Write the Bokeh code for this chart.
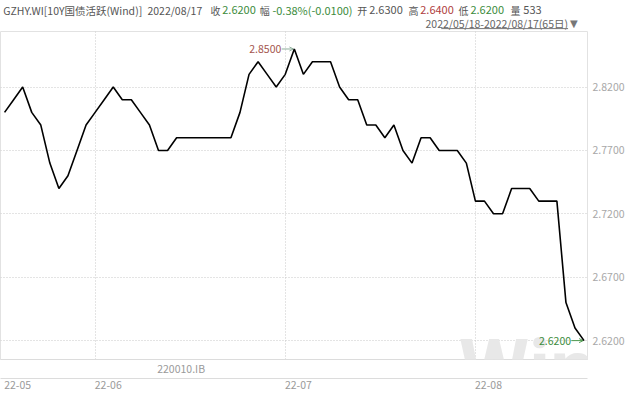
import pandas as pd
from bokeh.plotting import figure
from bokeh.models import (Range1d, LinearAxis, FixedTicker, Label, Arrow, OpenHead,
                          ColumnDataSource, PrintfTickFormatter)
from bokeh.layouts import column
from bokeh.embed import file_html
from bokeh.resources import INLINE
from bokeh.core.properties import value

# ---------------- data ----------------
yields = [2.80, 2.81, 2.82, 2.80, 2.79, 2.76, 2.74, 2.75, 2.77, 2.79,
          2.80, 2.81, 2.82, 2.81, 2.81, 2.80, 2.79, 2.77, 2.77, 2.78,
          2.78, 2.78, 2.78, 2.78, 2.78, 2.78, 2.80, 2.83, 2.84, 2.83,
          2.82, 2.83, 2.85, 2.83, 2.84, 2.84, 2.84, 2.82, 2.81, 2.81,
          2.79, 2.79, 2.78, 2.79, 2.77, 2.76, 2.78, 2.78, 2.77, 2.77,
          2.77, 2.76, 2.73, 2.73, 2.72, 2.72, 2.74, 2.74, 2.74, 2.73,
          2.73, 2.73, 2.65, 2.63, 2.62]
holidays = ["2022-06-03"]
dates = [d for d in pd.bdate_range("2022-05-18", "2022-08-17")
         if d.strftime("%Y-%m-%d") not in holidays]
dates = dates[:len(yields)]
y_ticks = [2.62, 2.67, 2.72, 2.77, 2.82]
instrument = "GZHY.WI[10Y国债活跃(Wind)]"
contract = "220010.IB"
open_px, high_px, low_px, volume = 2.6300, 2.6400, 2.6200, 533

# derived
idx = list(range(len(yields)))
close_px = yields[-1]
prev_px = yields[-2]
chg = close_px - prev_px
pct = chg / prev_px * 100
month_idx, month_lbl = [], []
for i, d in enumerate(dates):
    if i == 0 or d.month != dates[i - 1].month:
        month_idx.append(i)
        month_lbl.append(d.strftime("%y-%m"))

FONT = "Noto Sans CJK SC"
GREEN = "#3c8c3c"
RED = "#b04040"
GRAY = "#555555"

# ---------------- header ----------------
h = figure(width=624, height=31, x_range=Range1d(0, 640), y_range=Range1d(32, 0),
           output_backend="svg", toolbar_location=None, min_border=0,
           x_axis_location=None, y_axis_location=None)
h.grid.visible = False
h.outline_line_color = None

h.text(x=[3, 161], y=[10, 10], text=[instrument, dates[-1].strftime("%Y/%m/%d")],
       text_color=GRAY, text_font=value(FONT), text_font_size="10.5px",
       text_baseline="middle", text_align="left")

key_x = [230, 284, 391, 447, 502, 559]
key_text = ["收", "幅", "开", "高", "低", "量"]
h.text(x=key_x, y=[10] * len(key_x), text=key_text, text_color=GRAY,
       text_font=value(FONT), text_font_size="10px", text_baseline="middle", text_align="left")

val_x = [243, 298, 404, 460, 515, 573]
val_text = [f"{close_px:.4f}", f"{pct:.2f}%({chg:.4f})", f"{open_px:.4f}",
            f"{high_px:.4f}", f"{low_px:.4f}", f"{volume}"]
val_col = [GREEN, GREEN, GRAY, RED, GREEN, GRAY]
vsrc = ColumnDataSource(dict(x=val_x, y=[10] * len(val_x), t=val_text, c=val_col))
h.text(x="x", y="y", text="t", text_color="c", source=vsrc, text_font=value(FONT),
       text_font_size="11px", text_baseline="middle", text_align="left")

range_text = f"{dates[0].strftime('%Y/%m/%d')}-{dates[-1].strftime('%Y/%m/%d')}({len(dates)}日)"
h.text(x=[622], y=[23.5], text=[range_text], text_font=value(FONT), text_font_size="10.5px",
       text_color="#666666", text_baseline="middle", text_align="right")
h.segment(x0=[483], y0=[29], x1=[622], y1=[29], line_color="#777777", line_width=1)
h.text(x=[624], y=[23.5], text=["▼"], text_font=value("DejaVu Sans"), text_font_size="10px",
       text_color="#777777", text_baseline="middle", text_align="left")

# ---------------- main chart ----------------
p = figure(frame_width=587, frame_height=328,
           x_range=Range1d(-0.45, 64.38), y_range=Range1d(2.6051, 2.8638),
           output_backend="svg", toolbar_location=None, y_axis_location="right",
           min_border_left=0, min_border_top=0, min_border_right=37, min_border_bottom=0)
p.outline_line_color = "#e2e2e2"
p.background_fill_color = "white"

# watermark (top of the letters shows at the bottom of the frame)
p.add_layout(Label(x=50.2, y=2.6051, y_offset=-9,
                   text="Win.d", text_font="Roboto",
                   text_font_size="80px", text_font_style="bold", text_color="#e8e8e8",
                   text_align="left", text_baseline="middle"))

src = ColumnDataSource(dict(i=idx, v=yields))
p.line(x="i", y="v", source=src, line_color="black", line_width=1.6, level="overlay")

# y axis
p.yaxis.ticker = FixedTicker(ticks=y_ticks)
p.yaxis.formatter = PrintfTickFormatter(format="%.4f")
p.yaxis.axis_line_color = None
p.yaxis.major_tick_line_color = None
p.yaxis.minor_tick_line_color = None
p.yaxis.major_tick_out = 0
p.yaxis.minor_tick_out = 0
p.yaxis.major_label_text_color = "#a8a8a8"
p.yaxis.major_label_text_font = FONT
p.yaxis.major_label_text_font_size = "10.5px"
p.yaxis.major_label_standoff = 5

# grids
p.ygrid.grid_line_color = "#c8c8c8"
p.ygrid.grid_line_dash = "1 2"
p.xgrid.ticker = FixedTicker(ticks=month_idx[1:])
p.xgrid.grid_line_color = "#c8c8c8"
p.xgrid.grid_line_dash = "1 2"

# band axis (contract label)
band_label_x = 19.5
bax = p.xaxis[0]
bax.ticker = FixedTicker(ticks=[band_label_x])
bax.major_label_overrides = {band_label_x: contract}
bax.axis_line_color = "#dcdcdc"
bax.major_tick_line_color = None
bax.minor_tick_line_color = None
bax.major_tick_out = 0
bax.minor_tick_out = 0
bax.major_tick_in = 0
bax.major_label_text_color = "#9a9a9a"
bax.major_label_text_font = FONT
bax.major_label_text_font_size = "10.5px"
bax.major_label_standoff = 1

# date axis (labels start at the month's first trading day)
label_shift = 1.45
date_ticks = [i + label_shift for i in month_idx]
dax = LinearAxis(ticker=FixedTicker(ticks=date_ticks),
                 major_label_overrides={t: l for t, l in zip(date_ticks, month_lbl)})
dax.axis_line_color = "#dcdcdc"
dax.major_tick_line_color = None
dax.minor_tick_line_color = None
dax.major_tick_out = 0
dax.minor_tick_out = 0
dax.major_tick_in = 0
dax.major_label_text_color = "#9a9a9a"
dax.major_label_text_font = FONT
dax.major_label_text_font_size = "10.5px"
dax.major_label_standoff = 2
p.add_layout(dax, "below")

# max / last annotations
imax = max(idx, key=lambda k: yields[k])
vmax = yields[imax]
ilast, vlast = idx[-1], yields[-1]
for (ii, vv, tc, lc) in [(imax, vmax, "#a4554e", "#8fae9c"), (ilast, vlast, GREEN, "#4f9a4f")]:
    p.text(x=[ii], y=[vv], text=[f"{vv:.4f}"], x_offset=-13, text_align="right",
           text_baseline="middle", text_color=tc, text_font=value(FONT), text_font_size="10.5px",
           level="overlay")
    p.add_layout(Arrow(end=OpenHead(size=4, line_color=lc, line_width=1),
                       x_start=ii - 1.4, y_start=vv, x_end=ii - 0.1, y_end=vv,
                       line_color=lc, line_width=1))

layout = column(h, p, spacing=0)
open("out.html", "w").write(file_html(layout, INLINE))
